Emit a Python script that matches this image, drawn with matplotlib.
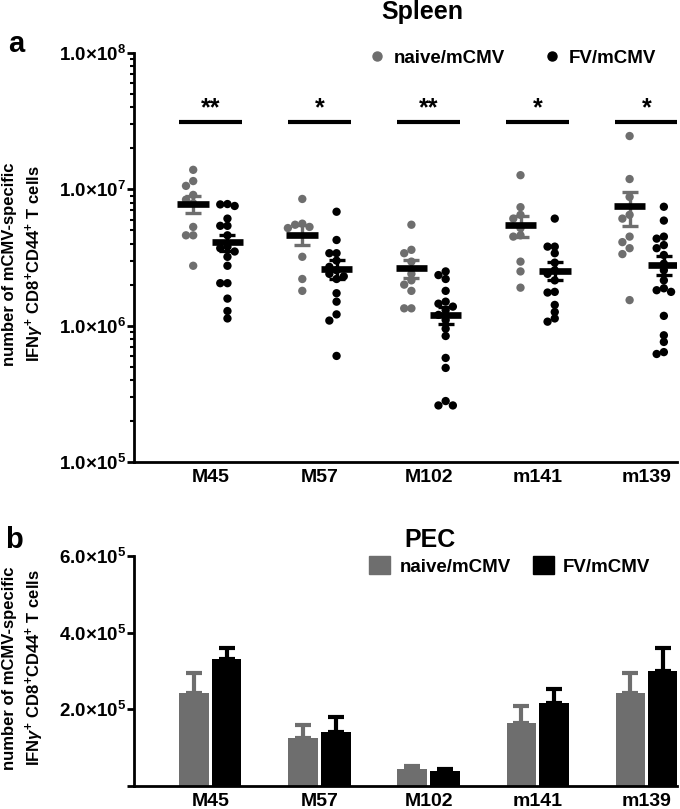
import numpy as np
import matplotlib
matplotlib.use('Agg')
import matplotlib.pyplot as plt
from matplotlib.lines import Line2D
from matplotlib.patches import Patch
from matplotlib.ticker import LogLocator, NullFormatter, FixedLocator

plt.rcParams['font.family'] = ['Liberation Sans', 'DejaVu Sans']
plt.rcParams['font.weight'] = 'bold'
plt.rcParams['mathtext.fontset'] = 'custom'
plt.rcParams['mathtext.rm'] = 'Liberation Sans:bold'
plt.rcParams['mathtext.bf'] = 'Liberation Sans:bold'
plt.rcParams['mathtext.it'] = 'Liberation Sans:italic'

# peptides on the x axis
peptides = ['M45', 'M57', 'M102', 'm141', 'm139']
stars = ['**', '*', '**', '*', '*']

# Spleen, cells per mouse (x 1e6)
naive_M45 = [13.9, 11.5, 10.6, 9.1, 8.4, 7.9, 5.3, 4.6, 4.6, 2.75]
fv_M45 = [7.8, 7.55, 7.75, 6.1, 5.4, 5.4, 4.6, 3.8, 3.7, 3.5, 3.2, 2.75, 2.05, 2.05, 1.58, 1.28, 1.13]
naive_M57 = [8.5, 5.6, 5.5, 5.3, 5.2, 3.2, 2.2, 1.8]
fv_M57 = [6.85, 4.25, 3.4, 3.4, 3.0, 2.7, 2.55, 2.4, 2.3, 2.2, 1.73, 1.5, 1.21, 1.09, 0.6]
naive_M102 = [5.5, 3.6, 3.4, 2.95, 2.4, 2.15, 2.0, 1.8, 1.34, 1.34]
fv_M102 = [2.5, 2.35, 2.2, 1.8, 1.5, 1.45, 1.38, 1.3, 1.2, 1.1, 0.95, 0.84, 0.58, 0.49, 0.28, 0.26, 0.26]
naive_m141 = [12.7, 7.4, 6.5, 6.1, 5.2, 4.6, 4.5, 2.95, 2.5, 1.9]
fv_m141 = [6.1, 3.8, 3.8, 3.4, 2.9, 2.55, 2.4, 2.15, 1.77, 1.75, 1.42, 1.26, 1.13, 1.07]
naive_m139 = [24.6, 11.9, 8.8, 6.5, 6.1, 4.5, 4.1, 3.7, 3.35, 1.54]
fv_m139 = [7.45, 5.9, 4.5, 4.35, 3.9, 3.7, 3.3, 2.85, 2.55, 2.15, 1.88, 1.82, 1.77, 1.18, 0.85, 0.76, 0.64, 0.62]

spleen_naive = [naive_M45, naive_M57, naive_M102, naive_m141, naive_m139]
spleen_fv = [fv_M45, fv_M57, fv_M102, fv_m141, fv_m139]

# PEC, mean and SEM (x 1e5)
pec_naive_mean = [2.43, 1.26, 0.44, 1.64, 2.43]
pec_naive_sem = [0.52, 0.33, 0.07, 0.44, 0.52]
pec_fv_mean = [3.32, 1.40, 0.40, 2.16, 2.99]
pec_fv_sem = [0.27, 0.41, 0.05, 0.37, 0.61]

GREY = '#6e6e6e'
BLACK = '#000000'


def swarm(vals, d=8.0, step=7.2, px_dec=136.3, px_unit=109.0):
    # simple column swarm, computed in pixel space
    ys = np.log10(vals) * px_dec
    placed = []
    offs = np.zeros(len(vals))
    cands = [0, -step, step, -2 * step, 2 * step, -3 * step, 3 * step]
    for i in np.argsort(-ys):
        for c in cands:
            if all(np.hypot(c - px, ys[i] - py) >= d * 0.8 for px, py in placed):
                break
        offs[i] = c
        placed.append((c, ys[i]))
    return offs / px_unit


def tick_label(v):
    e = int(np.log10(v))
    return r'$\mathbf{1.0{\times}10^{%d}}$' % e


fig = plt.figure(figsize=(6.8, 8.09), dpi=100)
ax1 = fig.add_axes([0.197, 0.4289, 0.799, 0.5056])
ax2 = fig.add_axes([0.197, 0.0284, 0.799, 0.2843])

x = np.arange(len(peptides))
off = 0.157

# ---- panel a: spleen
for i in range(len(peptides)):
    for vals, sign, col in [(spleen_naive[i], -1, GREY), (spleen_fv[i], 1, BLACK)]:
        v = np.array(vals) * 1e6
        cx = x[i] + sign * off
        ax1.scatter(cx + swarm(v), v, s=36, color=col, edgecolors='none', zorder=2)
        m = v.mean()
        sem = v.std(ddof=1) / np.sqrt(len(v))
        ax1.errorbar(cx, m, yerr=sem, fmt='none', ecolor=col, elinewidth=2.4,
                     capsize=6, capthick=2.4, zorder=3)
        ax1.plot([cx - 0.145, cx + 0.145], [m, m], color=BLACK, lw=4.8,
                 solid_capstyle='butt', zorder=4)
    ax1.plot([x[i] - 0.29, x[i] + 0.29], [3.13e7, 3.13e7], color=BLACK, lw=3,
             solid_capstyle='butt')
    ax1.text(x[i], 3.2e7, stars[i], ha='center', va='bottom', fontsize=18,
             fontweight='bold')

ax1.set_yscale('log')
ax1.set_ylim(1e5, 1e8)
ax1.set_xlim(-0.70, 4.28)
ax1.set_yticks([1e5, 1e6, 1e7, 1e8])
ax1.set_yticklabels([tick_label(v) for v in [1e5, 1e6, 1e7, 1e8]])
ax1.yaxis.set_minor_locator(LogLocator(base=10, subs=np.arange(2, 10)))
ax1.yaxis.set_minor_formatter(NullFormatter())

h1 = [Line2D([], [], marker='o', ls='none', color=GREY, markersize=6.5),
      Line2D([], [], marker='o', ls='none', color=BLACK, markersize=6.5)]
ax1.legend(h1, ['naive/mCMV', 'FV/mCMV'], ncol=2, frameon=False, loc='center',
           bbox_to_anchor=(512 / 680, 1 - 58 / 809), bbox_transform=fig.transFigure,
           prop={'weight': 'bold', 'size': 13.5}, handletextpad=0.4,
           columnspacing=2.0, handlelength=1.0)

# ---- panel b: PEC
bw = 0.27
nm = np.array(pec_naive_mean) * 1e5
fm = np.array(pec_fv_mean) * 1e5
ns = np.array(pec_naive_sem) * 1e5
fs = np.array(pec_fv_sem) * 1e5
ax2.bar(x - 0.15, nm, width=bw, color=GREY, zorder=2)
ax2.bar(x + 0.15, fm, width=bw, color=BLACK, zorder=2)
ax2.errorbar(x - 0.15, nm, yerr=[np.zeros_like(ns), ns], fmt='none', ecolor=GREY,
             elinewidth=3, capsize=6, capthick=3, zorder=1)
ax2.errorbar(x + 0.15, fm, yerr=[np.zeros_like(fs), fs], fmt='none', ecolor=BLACK,
             elinewidth=3, capsize=6, capthick=3, zorder=1)
ax2.set_ylim(0, 6e5)
ax2.set_xlim(-0.70, 4.28)
ax2.yaxis.set_major_locator(FixedLocator([0, 2e5, 4e5, 6e5]))
ax2.set_yticklabels(['', r'$\mathbf{2.0{\times}10^{5}}$', r'$\mathbf{4.0{\times}10^{5}}$',
                     r'$\mathbf{6.0{\times}10^{5}}$'])

h2 = [Patch(color=GREY), Patch(color=BLACK)]
ax2.legend(h2, ['naive/mCMV', 'FV/mCMV'], ncol=2, frameon=False, loc='center',
           bbox_to_anchor=(510 / 680, 1 - 566 / 809), bbox_transform=fig.transFigure,
           prop={'weight': 'bold', 'size': 13.5}, handletextpad=0.5,
           columnspacing=1.2, handlelength=1.1, handleheight=1.1)

for ax in (ax1, ax2):
    ax.spines['top'].set_visible(False)
    ax.spines['right'].set_visible(False)
    for s in ('left', 'bottom'):
        ax.spines[s].set_linewidth(2)
    ax.set_xticks(x)
    ax.set_xticklabels(peptides, fontsize=14, fontweight='bold')
    ax.tick_params(axis='x', length=0, pad=5)
    ax.tick_params(axis='y', which='major', length=5, width=2, labelsize=13.5, pad=1)
    ax.tick_params(axis='y', which='minor', length=3, width=1.5)

ylab = 'number of mCMV-specific\nIFN$\\gamma^{+}$ CD8$^{+}$CD44$^{+}$ T cells'
fig.text(24 / 680, 1 - 264 / 809, ylab, rotation=90, ha='center', va='center',
         fontsize=12, fontweight='bold', multialignment='center', linespacing=1.45)
fig.text(24 / 680, 1 - 668 / 809, ylab, rotation=90, ha='center', va='center',
         fontsize=12, fontweight='bold', multialignment='center', linespacing=1.45)

fig.text(422 / 680, 1 - 12 / 809, 'Spleen', ha='center', va='center', fontsize=18,
         fontweight='bold')
fig.text(430 / 680, 1 - 540 / 809, 'PEC', ha='center', va='center', fontsize=18,
         fontweight='bold')
fig.text(16 / 680, 1 - 44 / 809, 'a', ha='center', va='center', fontsize=21,
         fontweight='bold')
fig.text(14 / 680, 1 - 540 / 809, 'b', ha='center', va='center', fontsize=21,
         fontweight='bold')

fig.savefig('out.png', dpi=100)
